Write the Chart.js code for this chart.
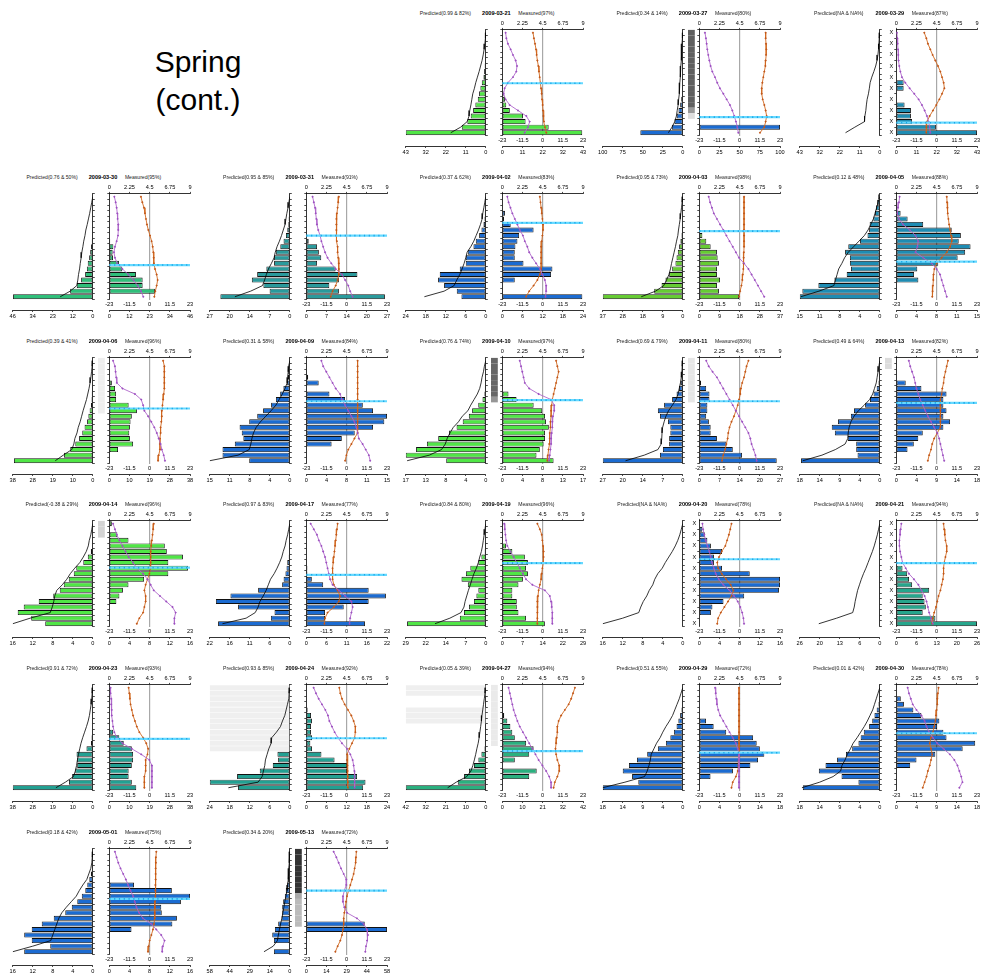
<!DOCTYPE html>
<html>
<head>
<meta charset="utf-8">
<script src="https://cdn.jsdelivr.net/npm/chart.js@4.4.1/dist/chart.umd.min.js"></script>
<style>
  body { margin: 0; background: #fff; width: 982px; height: 974px; position: relative; overflow: hidden;
         font-family: "Liberation Sans", Arial, sans-serif; }
  .panel { position: absolute; width: 197px; height: 164px; }
  .panel canvas { position: absolute; }
  .ttl { position: absolute; top: 13px; transform: translate(-50%, -50%); white-space: nowrap; font-size: 5.1px; color: #222; }
  .ttl.date { font-weight: bold; font-size: 5.6px; color: #000; }
  #season { position: absolute; left: 98px; top: 43px; width: 200px; text-align: center; font-size: 30px; line-height: 38px; }
</style>
</head>
<body>
<div id="season">Spring<br>(cont.)</div>
<script>
// one entry per panel, in reading order
const dates = ['2009-03-21','2009-03-27','2009-03-29','2009-03-30','2009-03-31','2009-04-02','2009-04-03','2009-04-05',
  '2009-04-06','2009-04-09','2009-04-10','2009-04-11','2009-04-13','2009-04-14','2009-04-17','2009-04-19','2009-04-20',
  '2009-04-21','2009-04-23','2009-04-24','2009-04-27','2009-04-29','2009-04-30','2009-05-01','2009-05-13'];
const predicted = ['0.99 & 82%','0.34 & 14%','NA & NA%','0.76 & 50%','0.95 & 85%','0.37 & 62%','0.95 & 73%','0.12 & 48%',
  '0.39 & 41%','0.31 & 58%','0.76 & 74%','0.69 & 79%','0.49 & 64%','-0.38 & 29%','0.97 & 83%','0.84 & 80%','NA & NA%',
  'NA & NA%','0.91 & 72%','0.93 & 85%','0.05 & 39%','0.51 & 55%','0.01 & 42%','0.18 & 42%','0.34 & 20%'];
const measured = [97,80,87,95,91,83,98,88,96,84,97,80,82,96,77,96,78,94,93,92,94,72,78,75,72];
const maxima = [43,100,43,46,27,24,37,15,38,15,17,27,18,16,22,29,16,26,38,24,42,18,18,16,58];

const G = '#50e646', B = '#1b6bd1', TB = '#1e8cb3';
const barColors = [G,B,TB,'#2fbf7a','#2a9a9c',B,'#66cc33',TB,G,B,G,B,B,G,B,G,B,'#26a68c','#22a092','#22a092','#2ab07f',B,B,B,B];

// rows run top (0) to bottom (18)
const leftBars = [
  [0,0,0,0.2,0.3,0.4,0.6,0.9,1.25,2.15,2.9,3.6,4.3,5.6,6.8,8.1,9.9,12.9,43],
  [0,0,0,0,0,0,0.3,0.5,0.6,0.8,0.9,1,2,3.3,5.4,7.5,10.4,13.7,53],
  [0,0,0,0,0,0,0,0,0,0,0,0,0,0,0,0,0,0,0],
  [0,0,0,0,0.1,0.2,0.3,0.4,0.6,1,1.5,2.1,2.9,3.4,4.4,6.7,9.2,13,45.8],
  [0.1,0.1,0.2,0.3,0.4,0.5,0.85,1.3,2.1,3.2,4.7,5.3,5.3,7.9,11,12.8,8.9,6.8,23.4],
  [0.1,0.2,0.2,0.3,0.4,0.7,1.3,2,3,3.7,5.4,6,6,7.8,13.8,14.3,12.5,8.7,7.3],
  [0,0,0,0.1,0.2,0.3,0.4,0.6,1.1,1.7,2.3,2.9,3.4,4.9,6.3,8,9.8,13.2,37],
  [0.3,0.5,0.7,0.9,1.2,1.9,2,2.3,3.7,5.9,6.5,5.6,5.6,5.4,6.2,8.5,11.5,14.5,15],
  [0.1,0.1,0.2,0.2,0.3,0.4,0.5,0.6,0.9,1.5,2.1,2.7,3.9,5,6.5,8.3,10.7,13.7,37.4],
  [0.1,0.2,0.3,0.4,0.5,1.2,1.8,2.6,3.5,5,6.1,7.6,9.4,9,8.7,10.3,12.6,12.6,7.6],
  [0,0,0,0,0.1,0.2,0.3,0.7,1.6,2.9,3.6,4.9,6.2,7.8,10.1,12.5,14.8,17,8.4],
  [0.1,0.2,0.3,0.4,0.8,1.3,2.1,3.6,6.3,8.4,7.7,5,4.2,4.2,4.6,4.6,6.7,7.7,27],
  [0.1,0.1,0.2,0.2,0.3,0.7,1.4,2.2,3.3,5.8,6.5,9.4,10.8,10.1,7.2,5.3,5.3,5,17.7],
  [0,0,0,0,0.1,0.4,1,1.9,3.3,3.8,4.8,5.8,6.6,7.9,10.8,13.8,15,12.3,9.5],
  [0.1,0.1,0.1,0.2,0.2,0.2,0.3,0.7,0.9,1.2,1.7,2.1,8.7,16.3,20.3,14.2,4.2,5.2,19.7],
  [0,0.1,0.1,0.2,0.3,0.4,1.6,2.7,5.6,7.2,8.8,6.5,2.7,3.4,4.3,6.1,7.9,9.4,28.5],
  [0,0,0,0,0,0,0,0,0,0,0,0,0,0,0,0,0,0,0],
  [0,0,0,0,0,0,0,0,0,0,0,0,0,0,0,0,0,0,0],
  [0,0,0,0.1,0.1,0.1,0.2,0.2,0.3,0.6,0.9,3,7.7,7.4,7.4,8.3,9.8,11.3,38],
  [0,0,0,0,0,0,0,0,0,0,0,0,3.7,3.5,5.1,9,15.8,24,15.5],
  [0.1,0.1,0.1,0.2,0.2,0.2,0.3,0.3,0.4,0.4,0.5,0.7,2.3,3.9,6.2,8.8,11.4,14.7,42],
  [0.05,0.1,0.15,0.2,0.3,0.6,1,1.4,2,2.8,3.8,5.6,8,10.3,12.1,13.5,11.4,10,18],
  [0,0.1,0.2,0.3,0.7,1.2,1.7,2.4,3.6,4.3,4.8,6.2,7.6,9.6,12.2,13.7,8.6,4.8,17.3],
  [0,0.05,0.1,0.2,0.4,0.7,1.1,1.5,2.2,3.1,4.2,5.5,7.8,10.2,12.2,13.7,12.2,8.5,13.7],
  [0.2,0.4,0.6,0.8,1,1.2,1.9,2.9,3.6,4.8,5.5,5.5,6,8.4,10.8,12.7,11.5,0,11.5]
];
const leftLine = [
  [0,0.2,0.5,0.9,1.4,2,2.8,3.6,4.5,5.4,6.1,7,7.5,8,8.6,9,10,13.5,18.8],
  [0,0.5,1,1.5,1.8,2.1,2.5,2.9,3.3,3.7,4.1,4.6,5.2,5.8,7,8,10,13.5,18],
  [0,0.3,0.5,0.7,1,1.5,2.2,3.2,4.3,5.2,5.6,6.1,6.8,7.2,7.5,8,8.2,13.4,18.4],
  [0,0.6,1.2,1.8,2.5,3.2,4,4.5,5.2,5.7,6.3,6.7,7.2,7.6,8.2,8.6,9.2,13,18.7],
  [0,0.3,0.6,1,1.3,1.6,2.2,2.8,3.5,4.3,4.9,5.3,6.2,7.2,7.9,8.5,9.2,13.2,18.5],
  [0,0.3,0.6,0.9,1.1,1.6,2.2,2.9,3.6,4.5,5.6,6,6.5,7.1,7.8,8.7,9.5,12.5,18.4],
  [0,0.3,0.6,0.9,1.2,1.6,2,2.3,2.9,3.4,4,4.6,5.2,5.7,6.4,7.5,8.8,12.6,19.2],
  [0,0.3,0.6,0.9,1.2,1.7,2.2,2.9,3.9,4.9,5.9,6.6,7.1,7.7,8,8.3,8.6,11.4,14.8],
  [0,0.3,0.6,0.9,1.3,1.8,2.4,3,3.8,4.6,5.3,6,6.9,7.5,8.5,9,10,14,17.8],
  [0,0.2,0.3,0.4,0.5,0.9,1.4,2,2.6,3.5,4.5,5.5,6.3,6.8,7.1,7.3,7.6,9.7,15],
  [0,0.3,0.5,0.8,1,1.3,1.8,2.5,3.2,3.8,5,5.8,6.9,7.6,8.2,8.6,9.4,12,16.7],
  [0,0.2,0.3,0.5,0.8,1.2,1.6,2.3,3.5,4.8,5.7,6.3,6.8,7,7.1,7.3,8.4,13,19.3],
  [0,0.2,0.4,0.6,0.8,1.2,1.6,2.3,3.5,4.8,5.8,6.5,6.9,7.1,7.2,7.8,10,13,17.3],
  [0,0.2,0.4,0.7,0.9,1.3,1.9,2.6,3.6,4.5,5.2,6.1,7.2,7.6,7.8,8.1,8.5,12.5,16],
  [0,0.3,0.6,1,1.3,1.8,2.2,2.8,3.5,4.3,5.3,5.9,6.5,7.3,8.2,8.7,9.5,12,18.5],
  [0,0.3,0.6,0.9,1.2,1.6,2.2,2.7,3.4,4.3,5,5.6,6.3,6.9,7.5,7.9,9,13,18.4],
  [0,0.3,0.6,1,1.5,2.1,2.8,3.5,4.1,5,5.6,6,6.7,7.2,7.9,8.4,8.8,12,16],
  [0,0.4,0.8,1.3,1.8,2.4,3.1,3.8,4.5,5.3,6,6.6,7.2,7.6,8,8.3,8.8,14,19.8],
  [0,0.3,0.5,0.8,1.2,1.6,2.2,3,3.9,4.8,5.6,6.2,6.8,7.3,7.7,8.3,9.2,13,17.5],
  [0,0.2,0.3,0.7,1.1,1.5,2.2,2.8,4,5.4,5.6,6.3,6.8,7.3,7.5,7.9,8.3,9.5,18.4],
  [0,0.4,0.8,1.2,1.6,2,2.3,2.7,3.1,3.5,4,4.7,5.3,6,6.8,7.8,10,15.5,20],
  [0,0.4,0.8,1.3,1.8,2.3,3,3.8,4.5,5.1,5.9,6.5,7.1,7.3,7.6,8,8.6,13,18],
  [0,0.4,0.8,1.2,1.6,2.2,2.8,3.5,4.3,5.1,6,6.6,7.3,7.8,8.5,8.8,10.5,13.5,17.5],
  [0,0.1,0.2,0.4,0.8,1.2,2,2.7,3.3,4.3,5.3,6.2,6.8,7.2,7.6,8,8.4,12,16],
  [0,0.3,0.5,0.7,1,1.2,1.6,2,2.8,3.6,4.3,5,5.7,6.7,7.5,8.3,9,12,18.7]
];
const rightBars = [
  [0,0,0,0,0,0,0,0,0,0,0.3,0.7,1.4,2.1,4,11,12.4,24.7,42.6],
  [0,0,0,0,0,0,0,0,0,0,0,0,0,0,0,0,0,100,0],
  [0,0,0,0,0,0,0,0,0,3.9,3.9,0,0,4.4,7.8,7.8,8.4,21.1,43],
  [0,0,0,0,0,0,0,0,0.5,2.3,1.9,2.1,5.5,7.4,15.2,19,19,26,0],
  [0,0,0,0,0,0,0,0,0.8,3.6,4.2,5,3.6,9.8,17.1,10.9,7.7,10.9,26.3],
  [0,0,0,0.8,0.5,2.5,9.3,5,4.5,3.9,3.7,3.7,6.3,14.9,14.5,3.7,0,0,23.8],
  [0,0,0,0,0,0,0,1.4,3.2,5.2,8.1,8.4,9,8.1,8.1,9.5,8.1,9,18.2],
  [0,0,0,0.8,2.1,5,10.3,12,11.6,13.8,12.8,11.4,7.8,3.9,3.3,4.1,0,0,0],
  [0,0,0,0,1.2,2.7,3.2,3.2,9.1,13,10.6,10,9.7,9.4,9.7,11.2,4.1,0,0],
  [0,0,0,0.35,2.3,0,4.3,7.2,10.5,12.4,15,14.5,12.4,9,6.6,4.7,0,0,0],
  [0,0,0,0,0,0,1.3,3,6.6,8.4,9,9.2,9.8,9,9,8.7,7.9,7.2,10.8],
  [0,0,0,0,0.6,2.3,3.4,3.4,2.7,2.7,2.3,3.2,3.8,3.8,5.9,9.1,11.2,14.3,25.9],
  [0,0,0,0,2.1,5.6,11.2,10.5,10.5,11.2,10.5,12,10.5,5.9,4.9,3.9,2.5,0,0],
  [0.5,0,1.6,3.8,11,11.4,14.6,11.7,15.6,11.7,6.9,3.8,2.7,2,1.4,0,0,0,0],
  [0,0,0,0,0,0,0,0,0.3,0.3,1.5,4.6,17,21.7,17,10.2,5.1,5.1,16],
  [0,0,0,0,1.3,3.6,8.1,9.2,8.5,9.2,7.4,5.8,3.6,3.6,5.2,5.2,5.8,8.5,15.3],
  [0,0.6,1.1,1.6,2.3,4.5,2.9,2.9,4.5,10,16,16,15.8,8.9,4.8,2.6,2.3,0,0],
  [0,0,0,0,0,0,0,0,2,3.5,4.1,5.1,10.6,8.5,9.1,9.5,8.5,12.6,26],
  [0,0,0,0,0,0,0,0,1.8,4.7,6.8,10.6,11.2,11.2,10.6,9.1,9.1,10.6,12.7],
  [0,0.1,0.1,0.1,0.4,1.4,1.7,1.4,1.4,1.7,1.2,1.7,4.5,8.4,12.1,12.1,15.1,17.6,16.9],
  [0,0,0,0,0,1,2.6,4.2,5.2,6.5,12.4,16.3,14,6.5,0,17.9,14,0,0],
  [0,0,0,0,0,0,1.5,3.2,6,12,12.8,13.5,14.5,13.1,11.4,7.5,2.5,0,0],
  [0,0,1,1.7,3.8,5.6,9.6,9.1,10.5,11.2,17.6,14.8,8.7,4.5,3.1,0,0,0,0],
  [0,0,0,0,0,0,4.9,12.4,16,14.2,10.3,10.4,13.4,12.5,4.4,0,0,0,0],
  [0,0,0,0,0,0,0,0,0,0,0,0,0,42,58,0,0,0,0]
];
// purple and orange lines, on the 0..9 top axis
const purpleLine = [
  [0.37,0.45,0.63,0.93,1.19,1.49,1.64,1.56,1.19,0.63,0.26,0.15,0.37,0.82,1.75,2.68,3.05,2.86,2.49],
  [0.63,0.74,0.82,0.89,1,1.12,1.26,1.45,1.75,2,2.3,2.68,3.05,3.42,3.68,3.9,4.09,4.24,4.35],
  [0.07,0.11,0.15,0.19,0.22,0.26,0.33,0.45,0.63,1,1.49,2,2.49,2.86,3.16,3.42,3.6,3.72,3.79],
  [0.56,0.71,0.82,0.89,0.93,1,1,0.97,0.82,0.63,0.52,0.63,0.89,1.45,2.12,2.68,3.16,3.53,3.79],
  [0.7,0.84,0.98,1.05,1.12,1.19,1.33,1.54,1.68,1.88,2.09,2.37,2.79,3.28,3.98,4.33,4.68,4.89,5.17],
  [0.56,0.7,0.91,1.12,1.4,1.68,1.95,2.3,2.51,2.79,3,3.35,3.77,4.19,4.47,4.75,4.89,4.89,4.82],
  [1.05,1.2,1.41,1.62,1.97,2.32,2.67,3.02,3.37,3.73,4.08,4.43,4.99,5.48,5.83,6.19,6.54,6.89,7.24],
  [0.37,0.3,0.19,0.11,0.3,0.75,1.5,2.14,2.44,2.36,2.14,3,3.94,4.5,4.88,5.06,5.25,5.44,5.63],
  [0.42,0.63,0.7,0.77,0.84,1.47,2.86,3.56,3.77,3.91,4.33,4.68,5.02,5.3,5.51,5.72,5.86,6.07,6.21],
  [1.68,1.88,2.23,2.58,2.93,3.28,3.77,3.98,4.33,4.68,5.03,5.37,5.58,5.72,5.86,6.28,6.63,6.98,7.12],
  [1.95,2.09,2.23,2.37,2.51,3,4.05,5.44,5.79,5.79,5.65,5.58,5.58,5.51,5.44,5.44,5.37,5.3,5.23],
  [0.77,1.05,1.48,1.97,2.32,2.67,3.02,3.37,3.73,4.08,4.43,4.78,5.13,5.48,5.69,5.83,6.05,6.26,6.4],
  [1.4,1.55,1.76,1.97,2.11,2.25,2.46,2.67,2.95,3.23,3.52,3.87,4.22,4.57,4.78,4.92,5.06,5.2,5.34],
  [0.42,0.63,0.84,1.12,1.47,1.81,2.16,2.65,3.07,3.77,4.26,4.61,4.96,5.65,6.35,7.05,7.4,7.26,7.26],
  [0.49,0.84,1.19,1.4,1.68,1.88,2.09,2.23,2.37,2.51,2.65,2.93,3.63,4.33,5.03,5.17,5.03,4.89,4.82],
  [0.21,0.28,0.35,0.42,0.56,0.91,1.26,1.61,1.95,2.3,2.65,3.35,4.75,5.3,5.44,5.51,5.58,5.58,5.58],
  [0.35,0.42,0.56,0.7,0.91,1.12,1.27,1.41,1.62,1.83,2.18,2.67,3.37,3.87,4.29,4.57,4.78,4.92,4.99],
  [0.56,0.49,0.42,0.35,0.35,0.42,0.56,0.7,1.05,1.41,1.97,2.46,2.81,3.16,3.37,3.52,3.66,3.87,4.08],
  [0.14,0.14,0.21,0.21,0.28,0.28,0.35,0.42,0.56,0.84,1.47,2.51,3.56,4.47,4.75,4.75,4.75,4.75,4.75],
  [0.82,1.08,1.38,1.75,2.12,2.42,2.57,2.86,3.16,3.53,3.98,4.54,4.91,5.17,5.28,5.36,5.39,5.39,5.39],
  [0.7,0.84,0.98,1.12,1.26,1.47,1.68,1.95,2.3,2.65,3,3.35,3.7,4.05,4.47,4.89,5.23,5.44,5.44],
  [1.76,1.83,1.9,1.97,2.11,2.32,2.67,3.02,3.37,3.73,4.08,4.29,4.43,4.43,4.43,4.43,4.43,4.43,4.43],
  [1.27,1.41,1.62,1.83,2.25,2.81,3.16,3.37,3.66,4.08,4.57,5.27,5.98,6.47,6.82,7.03,7.24,7.38,7.03],
  [0.63,0.81,1,1.25,1.55,1.85,2.1,2.36,2.66,2.84,3.03,3.32,3.76,4.69,5.24,5.79,6.16,5.98,5.9],
  [3.05,3.35,3.61,3.87,4.17,4.46,4.46,4.24,4.09,4.09,4.24,4.54,5.65,6.4,6.77,6.88,6.77,6.66,6.58]
];
const orangeLine = [
  [3.42,3.53,3.65,3.76,3.83,3.91,4.02,4.09,4.17,4.24,4.32,4.39,4.43,4.5,4.54,4.58,4.65,4.76,4.91],
  [7.4,7.4,7.44,7.48,7.44,7.4,7.37,7.25,7.14,7.03,6.96,6.96,7.07,7.25,7.4,7.51,7.4,7.25,6.77],
  [3.12,3.35,3.53,3.79,4.05,4.35,4.65,4.91,5.1,5.28,5.36,5.1,4.8,4.46,4.09,3.72,3.42,3.35,3.35],
  [3.53,3.68,3.87,3.98,4.09,4.2,4.35,4.54,4.72,4.84,4.91,4.95,4.98,5.1,5.28,5.39,5.28,5.13,5.02],
  [3.63,3.56,3.49,3.42,3.35,3.35,3.35,3.35,3.42,3.49,3.49,3.56,3.63,3.63,3.63,3.49,3.28,2.93,2.72],
  [4.19,4.26,4.33,4.4,4.47,4.54,4.54,4.47,4.4,4.33,4.33,4.33,4.33,4.33,4.19,3.91,3.49,3,2.65],
  [4.99,4.99,4.99,4.99,4.99,4.99,4.99,4.99,4.99,4.99,4.97,4.95,4.93,4.9,4.85,4.8,4.7,4.55,4.43],
  [5.63,5.66,5.7,5.74,5.81,5.89,6,6.11,6.19,6,5.63,5.06,4.5,4.24,4.16,4.13,4.09,4.05,4.01],
  [6,6.14,6.14,6.14,6.14,6.14,6.07,6,5.93,5.86,5.86,5.79,5.72,5.72,5.65,5.65,5.65,5.51,5.44],
  [5.72,5.72,5.72,5.72,5.72,5.72,5.72,5.72,5.72,5.72,5.72,5.72,5.72,5.72,5.37,5.03,4.68,4.47,4.33],
  [6,6.14,6.28,6.14,6,5.86,5.72,5.58,5.51,5.44,5.44,5.37,5.37,5.3,5.3,5.23,5.16,5.09,5.03],
  [5.48,5.27,5.13,4.99,4.78,4.64,4.57,4.43,4.29,4.08,3.87,3.59,3.37,3.23,3.16,3.02,2.88,2.67,2.53],
  [5.76,5.62,5.48,5.34,5.27,5.13,5.06,4.92,4.92,4.92,4.92,4.92,4.92,4.57,4.22,4,3.87,3.66,3.52],
  [4.96,4.89,4.82,4.75,4.68,4.61,4.61,4.61,4.61,4.47,4.26,4.05,3.91,4.05,4.05,3.91,3.77,3.35,3.07],
  [3.49,3.42,3.35,3.28,3.21,3.14,3.07,3,2.93,2.93,2.93,3.07,3.49,3.77,3.63,3.07,2.37,2.09,2.02],
  [3.91,4.19,4.4,4.47,4.54,4.61,4.61,4.54,4.47,4.4,4.33,4.19,4.05,3.98,3.91,3.91,3.91,3.91,3.91],
  [3.59,3.45,3.3,3.1,2.9,2.5,2.2,2,2.1,2.5,3,3.5,3.8,3.6,3.2,2.8,2.4,2.1,2],
  [5.27,5.34,5.41,5.48,5.62,5.62,5.48,5.34,5.27,5.27,5.2,5.06,4.92,4.71,4.57,4.43,4.22,4.08,4.01],
  [2.16,2.23,2.3,2.37,2.51,2.65,2.86,3.07,3.35,3.77,4.12,4.33,4.26,4.05,4.05,4.05,3.91,3.91,3.91],
  [3.68,3.79,3.98,4.28,4.65,5.02,5.28,5.47,5.47,5.39,5.1,4.8,4.54,4.54,4.58,4.61,4.65,4.65,4.65],
  [8.1,7.89,7.68,7.4,6.98,6.56,6.28,6.14,6.14,6.07,6,5.93,6,6.14,6.35,6.35,6.14,5.86,5.72],
  [4.43,4.43,4.43,4.43,4.43,4.43,4.43,4.43,4.43,4.43,4.43,4.43,4.43,4.4,4.36,4.29,4.08,3.73,3.59],
  [4.71,4.64,4.57,4.57,4.5,4.43,4.36,4.22,4.08,3.87,3.73,3.87,4.01,3.87,3.73,3.52,3.37,3.16,2.95],
  [5.24,5.2,5.2,5.17,5.17,5.17,5.13,5.13,5.13,5.09,5.09,5.06,5.06,4.98,4.87,4.69,4.5,4.39,4.32],
  [5.58,5.54,5.5,5.39,5.28,5.1,4.91,4.72,4.54,4.43,4.35,4.24,4.17,4.17,4.09,3.98,3.79,3.5,3.24]
];
const cyanRow = [9.1,15.2,16.2,12.3,7,4.7,6.2,11.7,8.6,7.3,7.1,7.3,7.6,7.9,9.2,7.1,6.4,7.1,9.2,9.1,11.4,11.7,8.2,8.5,7];
// grey level of the shaded column per row (0 = none)
const blockShades = {
  1:  [95,95,95,95,95,95,95,95,95,95,95,95,95,95,153,221,0,0,0],
  8:  [238,238,238,238,238,238,238,238,238,238,0,0,0,0,0,0,0,0,0],
  10: [102,102,102,102,102,102,102,150,0,0,0,0,0,0,0,0,0,0,0],
  11: [230,230,230,230,230,230,230,230,0,0,0,0,0,0,0,0,0,0,0],
  12: [220,220,0,0,0,0,0,0,0,0,0,0,0,0,0,0,0,0,0],
  13: [211,211,211,0,0,0,0,0,0,0,0,0,0,0,0,0,0,0,0],
  20: [234,234,234,234,234,234,234,234,234,234,234,0,0,0,0,0,0,0,0],
  24: [51,51,51,51,51,51,51,51,170,187,187,187,187,187,0,0,0,0,0]
};
const stripRows = { 19: [0,1,2,3,4,5,6,7,8,9,10,11], 20: [0,1,4,5,6] };

const topTicks = [0, 2.25, 4.5, 6.75, 9];
const midTicks = [-23, -11.5, 0, 11.5, 23];

Chart.defaults.font.family = '"Liberation Sans", Arial, sans-serif';
Chart.defaults.color = '#000';
Chart.defaults.animation = false;

const COL_W = 196.7, ROW_H = 163.8;
const tickFont = { size: 5.6 };
const rows = Array.from({ length: 19 }, (_, i) => i);

// R style rounding (half to even) for the quarter tick labels
function roundEven(v) {
  const f = Math.floor(v);
  if (Math.abs(v - f - 0.5) < 1e-9) return f % 2 === 0 ? f : f + 1;
  return Math.round(v);
}
function quarters(max) { return [0, 0.25, 0.5, 0.75, 1].map(f => f * max); }
function setTicks(values) { return s => { s.ticks = values.map(v => ({ value: v })); }; }
function fix(prop, size) {
  return s => { s[prop] = size; s.paddingLeft = 0; s.paddingRight = 0; s.paddingTop = 0; s.paddingBottom = 0; };
}
function pts(arr, skipZero) {
  const out = arr.map((v, r) => ({ x: v, y: r }));
  return skipZero ? out.filter(p => p.x > 0) : out;
}
const rowAxis = (pos, width, labels) => ({
  type: 'linear', position: pos, min: -0.5, max: 18.5, reverse: true, offset: false,
  afterBuildTicks: setTicks(rows),
  ticks: { display: !!labels, callback: () => labels || '', font: tickFont, padding: 1 },
  grid: { drawOnChartArea: false, tickLength: 2, color: '#000', lineWidth: 0.7 },
  border: { color: '#000', width: 0.8 },
  afterFit: fix('width', width)
});

const shadePlugin = {
  id: 'shadeBlock',
  beforeDatasetsDraw(chart, args, opts) {
    if (!opts.shades) return;
    const { ctx, chartArea, scales } = chart;
    opts.shades.forEach((g, r) => {
      if (!g) return;
      const y0 = scales.y.getPixelForValue(r - 0.5), y1 = scales.y.getPixelForValue(r + 0.5);
      ctx.fillStyle = `rgb(${g},${g},${g})`;
      ctx.fillRect(chartArea.left - 11.3, y0, 6.8, y1 - y0);
    });
  }
};

const barStyle = { borderColor: '#111', borderWidth: 0.9, borderSkipped: false,
                   barPercentage: 0.9, categoryPercentage: 1, grouped: false };

dates.forEach((date, i) => {
  const slot = i + 2, col = slot % 5, row = Math.floor(slot / 5);
  const max = maxima[i];
  const isNA = predicted[i].startsWith('NA');

  const panel = document.createElement('div');
  panel.className = 'panel';
  panel.style.left = (col * COL_W) + 'px';
  panel.style.top = (row * ROW_H) + 'px';
  panel.innerHTML =
    `<span class="ttl" style="left:52px">Predicted(${predicted[i]})</span>` +
    `<span class="ttl date" style="left:103px">${date}</span>` +
    `<span class="ttl" style="left:143px">Measured(${measured[i]}%)</span>`;
  document.body.appendChild(panel);

  const lc = document.createElement('canvas');
  lc.width = 100; lc.height = 144;
  lc.style.left = '0px'; lc.style.top = '18px';
  panel.appendChild(lc);
  const rc = document.createElement('canvas');
  rc.width = 101; rc.height = 144;
  rc.style.left = '95px'; rc.style.top = '18px';
  panel.appendChild(rc);

  const leftSets = [];
  if (stripRows[i]) {
    leftSets.push({ data: stripRows[i].map(r => ({ x: max, y: r })), backgroundColor: '#efefef', borderWidth: 0,
      barPercentage: 0.9, categoryPercentage: 1, grouped: false, xAxisID: 'lx', order: 3 });
  }
  leftSets.push({ ...barStyle, data: pts(leftBars[i], true), backgroundColor: barColors[i], xAxisID: 'lx', order: 2 });
  leftSets.push({ type: 'line', data: pts(leftLine[i]), borderColor: '#000', borderWidth: 0.8, pointRadius: 0,
    xAxisID: 'lx', order: 0 });

  new Chart(lc, {
    type: 'bar',
    data: { datasets: leftSets },
    options: {
      indexAxis: 'y', responsive: false,
      layout: { padding: { left: 12.7, right: 0, top: 11.9, bottom: 0 } },
      plugins: { legend: { display: false }, tooltip: { enabled: false } },
      scales: {
        y: rowAxis('right', 7.2, null),
        gap: { type: 'linear', position: 'bottom', min: 0, max: 1, ticks: { display: false },
               grid: { display: false }, border: { display: false }, afterFit: fix('height', 10.5) },
        lx: { type: 'linear', position: 'bottom', min: 0, max: max, reverse: true,
              afterBuildTicks: setTicks(quarters(max)),
              ticks: { callback: v => roundEven(v), font: tickFont, padding: 1, maxRotation: 0, autoSkip: false },
              grid: { drawOnChartArea: false, tickLength: 2, color: '#000', lineWidth: 0.7 },
              border: { color: '#000', width: 0.8 }, afterFit: fix('height', 16) }
      }
    }
  });

  const c = cyanRow[i];
  new Chart(rc, {
    type: 'bar',
    plugins: [shadePlugin],
    data: { datasets: [
      { ...barStyle, data: pts(rightBars[i], true), backgroundColor: barColors[i], xAxisID: 'bot', order: 4 },
      { type: 'line', data: pts(purpleLine[i]), borderColor: '#b068cc', borderWidth: 0.9, pointRadius: 1.2,
        pointStyle: 'rectRot', pointBackgroundColor: '#9b4fbf', pointBorderWidth: 0, xAxisID: 'top', order: 2 },
      { type: 'line', data: pts(orangeLine[i]), borderColor: '#d2691e', borderWidth: 0.9, pointRadius: 1.2,
        pointStyle: 'rectRot', pointBackgroundColor: '#c0561a', pointBorderWidth: 0, xAxisID: 'top', order: 2 },
      { type: 'line', data: [{ x: -23, y: c }, { x: 23, y: c }], borderColor: '#66d9ff', borderWidth: 2.2,
        pointRadius: 0, xAxisID: 'mid', order: 1 },
      { type: 'line', data: [{ x: -23, y: c }, { x: 23, y: c }], borderColor: '#1aa6e8', borderWidth: 1.6,
        borderDash: [1.2, 3.6], pointRadius: 0, xAxisID: 'mid', order: 0 }
    ]},
    options: {
      indexAxis: 'y', responsive: false,
      layout: { padding: { left: 0, right: 6, top: 0, bottom: 0 } },
      plugins: { legend: { display: false }, tooltip: { enabled: false }, shadeBlock: { shades: blockShades[i] } },
      scales: {
        y: rowAxis('left', 14.3, isNA ? 'X' : null),
        top: { type: 'linear', position: 'top', min: 0, max: 9, afterBuildTicks: setTicks(topTicks),
               ticks: { callback: v => String(v), font: tickFont, padding: 1, maxRotation: 0, autoSkip: false },
               grid: { drawOnChartArea: false, tickLength: 2, color: '#000', lineWidth: 0.7 },
               border: { color: '#000', width: 0.8 }, afterFit: fix('height', 11.9) },
        mid: { type: 'linear', position: 'bottom', min: -23, max: 23, afterBuildTicks: setTicks(midTicks),
               ticks: { callback: v => String(v), font: tickFont, padding: 2, maxRotation: 0, autoSkip: false },
               grid: { drawTicks: false, lineWidth: 1.2, color: ctx => (ctx.tick && ctx.tick.value === 0) ? '#a8a8a8' : 'rgba(0,0,0,0)' },
               border: { display: false }, afterFit: fix('height', 10.5) },
        bot: { type: 'linear', position: 'bottom', min: 0, max: max, afterBuildTicks: setTicks(quarters(max)),
               ticks: { callback: v => roundEven(v), font: tickFont, padding: 1, maxRotation: 0, autoSkip: false },
               grid: { drawOnChartArea: false, tickLength: 2, color: '#000', lineWidth: 0.7 },
               border: { color: '#000', width: 0.8 }, afterFit: fix('height', 16) }
      }
    }
  });
});
</script>
</body>
</html>
